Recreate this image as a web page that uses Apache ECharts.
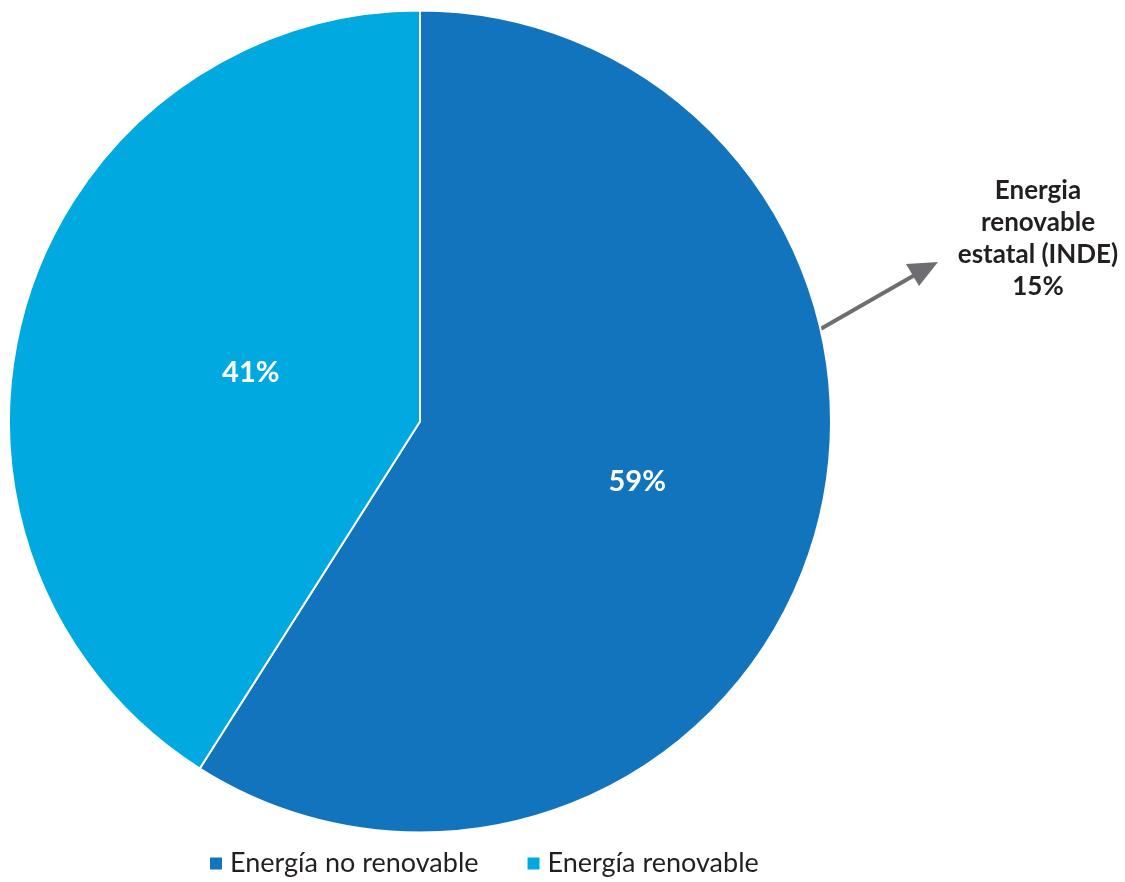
<!DOCTYPE html>
<html>
<head>
<meta charset="utf-8">
<script src="https://cdn.jsdelivr.net/npm/echarts@6/dist/echarts.min.js"></script>
<style>
html,body{margin:0;padding:0;background:#fff;}
#chart{width:1125px;height:882px;}
</style>
</head>
<body>
<div id="chart"></div>
<script>
const categories = ['Energía no renovable', 'Energía renovable'];
const values = [59, 41];
const colors = ['#1174BC', '#00A9E0'];
const annotationLines = ['Energia', 'renovable', 'estatal (INDE)', '15%'];

const chart = echarts.init(document.getElementById('chart'), null, {renderer: 'canvas'});
const FONT = 'Lato, "Open Sans", sans-serif';
const labelOffsets = [[17, 2], [31, 9]];

const data = categories.map((c, i) => ({
  name: c,
  value: values[i],
  itemStyle: {color: colors[i]},
  label: {offset: labelOffsets[i]}
}));

chart.setOption({
  animation: false,
  backgroundColor: '#ffffff',
  legend: {
    left: 203,
    bottom: 0,
    itemWidth: 14,
    itemHeight: 14,
    itemGap: 47,
    icon: 'rect',
    data: categories,
    textStyle: {fontFamily: FONT, fontSize: 27, color: '#231F20', padding: [0, 0, 0, 2]}
  },
  series: [{
    type: 'pie',
    center: [420, 421.5],
    radius: [0, 411],
    startAngle: 90,
    clockwise: true,
    data: data,
    itemStyle: {borderColor: '#ffffff', borderWidth: 2},
    label: {
      show: true,
      position: 'inside',
      formatter: '{c}%',
      fontFamily: FONT,
      fontSize: 29,
      fontWeight: 'bold',
      color: '#ffffff'
    },
    labelLine: {show: false},
    emphasis: {disabled: true}
  }],
  graphic: [
    {
      type: 'line',
      shape: {x1: 817, y1: 331, x2: 920, y2: 272},
      style: {stroke: '#6D6E71', lineWidth: 4}
    },
    {
      type: 'polygon',
      shape: {points: [[938, 262], [906, 264], [919, 286]]},
      style: {fill: '#6D6E71'}
    },
    {
      type: 'text',
      style: {
        x: 1038, y: 175,
        text: annotationLines.join('\n'),
        textAlign: 'center',
        fontFamily: FONT,
        fontSize: 26,
        fontWeight: 'bold',
        lineHeight: 32,
        fill: '#231F20'
      }
    }
  ]
});
</script>
</body>
</html>
